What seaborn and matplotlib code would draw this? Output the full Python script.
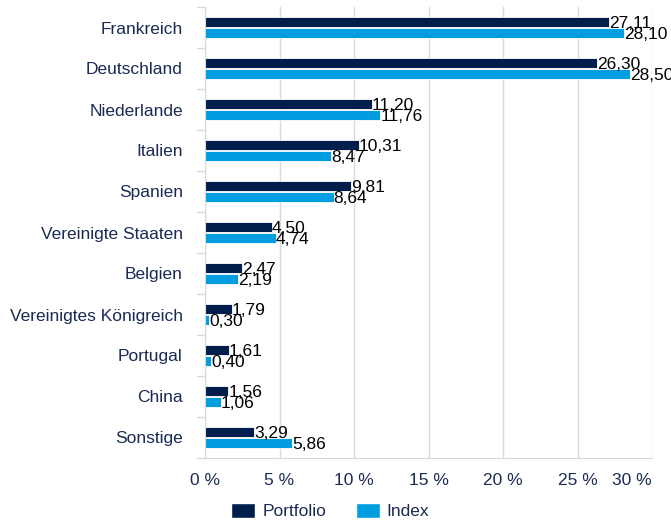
import matplotlib
matplotlib.use("Agg")
import matplotlib.pyplot as plt
import numpy as np
import pandas as pd
import seaborn as sns
from matplotlib.patches import Patch

# Country weights, portfolio vs index (%)
countries = [
    "Frankreich", "Deutschland", "Niederlande", "Italien", "Spanien",
    "Vereinigte Staaten", "Belgien", "Vereinigtes Königreich", "Portugal",
    "China", "Sonstige",
]
portfolio = [27.11, 26.30, 11.20, 10.31, 9.81, 4.50, 2.47, 1.79, 1.61, 1.56, 3.29]
index_vals = [28.10, 28.50, 11.76, 8.47, 8.64, 4.74, 2.19, 0.30, 0.40, 1.06, 5.86]
series = ["Portfolio", "Index"]
xticks = [0, 5, 10, 15, 20, 25, 30]

NAVY = "#001E4B"
BLUE = "#009EE0"
TEXT = "#1B2A55"
GRID = "#D9D9D9"

sns.set_style("white")
plt.rcParams["font.family"] = ["Liberation Sans", "DejaVu Sans"]

df = pd.DataFrame({
    "Land": countries * 2,
    "Wert": portfolio + index_vals,
    "Serie": [series[0]] * len(countries) + [series[1]] * len(countries),
})

fig = plt.figure(figsize=(6.71, 5.22), dpi=100)
ax = fig.add_axes([205 / 671, 64 / 522, 447 / 671, 451 / 522])

sns.barplot(
    data=df, y="Land", x="Wert", hue="Serie", order=countries,
    hue_order=series, palette=[NAVY, BLUE], saturation=1, orient="h",
    width=0.54, gap=0.1, edgecolor="white", linewidth=0.6,
    legend=False, ax=ax,
)

# value labels, German decimal comma
for cont in ax.containers:
    for bar in cont:
        w = bar.get_width()
        yc = bar.get_y() + bar.get_height() / 2
        ax.text(w, yc + 0.03, f"{w:.2f}".replace(".", ","), ha="left", va="center",
                fontsize=12.5, color="black")

ax.set_xlim(0, 30)
ax.set_ylim(len(countries) - 0.5, -0.5)
ax.set_xticks(xticks)
labels = ax.set_xticklabels([f"{t} %" for t in xticks], fontsize=12.5, color=TEXT)
labels[-1].set_horizontalalignment("right")
ax.tick_params(axis="x", length=0, pad=11)
ax.tick_params(axis="y", length=0, labelsize=12.5, labelcolor=TEXT, pad=16)
ax.set_xlabel("")
ax.set_ylabel("")
ax.xaxis.grid(True, color=GRID, linewidth=1)
ax.set_axisbelow(True)

for s in ["top", "right"]:
    ax.spines[s].set_visible(False)
ax.spines["left"].set_color(GRID)
ax.spines["bottom"].set_color(GRID)

# small separators between categories on the left axis
for b in np.arange(-0.5, len(countries), 1.0):
    ax.plot([-0.018, 0], [b, b], transform=ax.get_yaxis_transform(),
            color=GRID, linewidth=1, clip_on=False)

handles = [Patch(facecolor=NAVY, label=series[0]), Patch(facecolor=BLUE, label=series[1])]
fig.legend(handles=handles, loc="lower center", bbox_to_anchor=(0.492, -0.025), ncol=2,
           frameon=False, fontsize=12.5, handlelength=1.4, handleheight=0.9,
           handletextpad=0.4, columnspacing=1.7, labelcolor=TEXT)

fig.savefig("out.png", dpi=100)
